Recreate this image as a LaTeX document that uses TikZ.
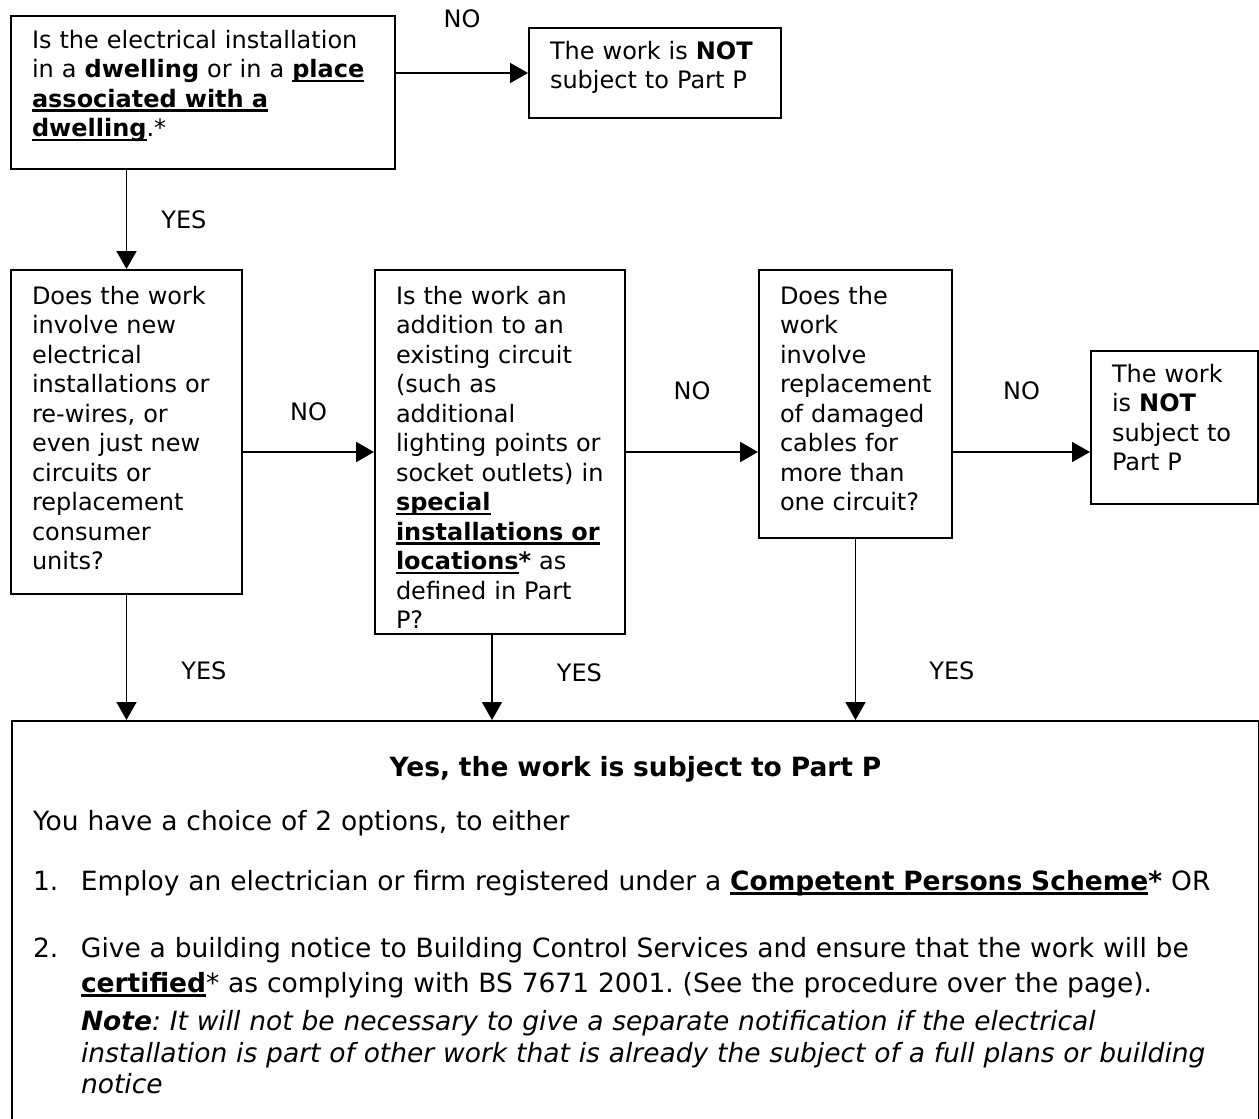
\documentclass[tikz,border=0pt]{standalone}
\usepackage{fontspec}
\setmainfont{DejaVu Sans}
\usetikzlibrary{
	arrows.meta,
}
\frenchspacing
\newcommand{\undl}[1]{\leavevmode\setbox0\hbox{#1}\rlap{\rule[-4.5pt]{\wd0}{2.3pt}}\box0}
\tikzset{
	box/.style={draw, line width=2pt, anchor=north west, align=left, inner xsep=21pt, inner ysep=0pt},
	arr/.style={-{Triangle[length=18pt,width=20pt]}, line width=1.8pt},
	lbl/.style={inner sep=0pt},
}

\begin{document}
\begin{tikzpicture}[x=1pt, y=-1pt, font=\fontsize{24}{29.5}\selectfont]
\clip[use as bounding box] (0,0) rectangle (1259,1119);
\node[box, text width=342pt, text height=32pt, text depth=121pt] (dwell) at (10,15)
    {Is the electrical installation\\
     in a \textbf{dwelling} or in a \undl{\textbf{place}}\\
     \undl{\textbf{associated with a}}\\
     \undl{\textbf{dwelling}}.*};
\node[box, text width=210pt, text height=31pt, text depth=59pt] (notpA) at (528,27)
    {The work is \textbf{NOT}\\ subject to Part P};
\node[box, text width=189pt, text height=34pt, text depth=290pt] (newwork) at (10,269)
    {Does the work\\ involve new\\ electrical\\ installations or\\ re-wires, or\\
     even just new\\ circuits or\\ replacement\\ consumer\\ units?};
\node[box, text width=208pt, text height=34pt, text depth=330pt] (addition) at (374,269)
    {Is the work an\\ addition to an\\ existing circuit\\ (such as\\ additional\\
     lighting points or\\ socket outlets) in\\ \undl{\textbf{special}}\\
     \undl{\textbf{installations or}}\\ \undl{\textbf{locations}}\textbf{*} as\\
     defined in Part\\ P?};
\node[box, text width=151pt, text height=34pt, text depth=234pt] (damaged) at (758,269)
    {Does the\\ work\\ involve\\ replacement\\ of damaged\\ cables for\\ more than\\ one circuit?};
\node[box, text width=125pt, text height=31pt, text depth=122pt] (notpB) at (1090,350)
    {The work\\ is \textbf{NOT}\\ subject to\\ Part P};
\node[box, font=\fontsize{26.5}{33}\selectfont, text width=1205pt, text height=55pt, text depth=385pt] (partp) at (11,720)
    {\makebox[1205pt]{\textbf{Yes, the work is subject to Part P}}\\[21pt]
     You have a choice of 2 options, to either\\[27pt]
     \makebox[48pt][l]{1.}Employ an electrician or firm registered under a
       \undl{\textbf{Competent Persons Scheme}}\textbf{*} OR\\[34pt]
     \makebox[48pt][l]{2.}Give a building notice to Building Control Services and ensure that the work will be\\[2pt]
     \hspace*{48pt}\undl{\textbf{certified}}* as complying with BS 7671 2001. (See the procedure over the page).\\[5pt]
     \hspace*{48pt}\textbf{\textit{Note}}\textit{: It will not be necessary to give a separate notification if the electrical}\\[-1pt]
     \hspace*{48pt}\textit{installation is part of other work that is already the subject of a full plans or building}\\[-2pt]
     \hspace*{48pt}\textit{notice}};
% connectors
\draw[arr] (dwell.east |- notpA.west) -- node[lbl, above=44pt] {NO} (notpA.west);
\draw[arr] (dwell.south -| newwork.north) -- node[lbl, right=34pt] {YES} (newwork.north);
\draw[arr] (newwork.east |- addition.west) -- node[lbl, above=30pt] {NO} (addition.west);
\draw[arr] (addition.east) -- node[lbl, above=51pt] {NO} (addition.east -| damaged.west);
\draw[arr] (damaged.east |- addition.east) -- node[lbl, above=51pt] {NO} (addition.east -| notpB.west);
\draw[arr] (newwork.south) -- node[lbl, pos=0.61, right=54pt] {YES} (newwork.south |- partp.north);
\draw[arr] ([xshift=-8pt]addition.south) -- node[lbl, pos=0.44, right=64pt] {YES} ([xshift=-8pt]addition.south |- partp.north);
\draw[arr] (damaged.south) -- node[lbl, pos=0.73, right=73pt] {YES} (damaged.south |- partp.north);
\end{tikzpicture}
\end{document}
